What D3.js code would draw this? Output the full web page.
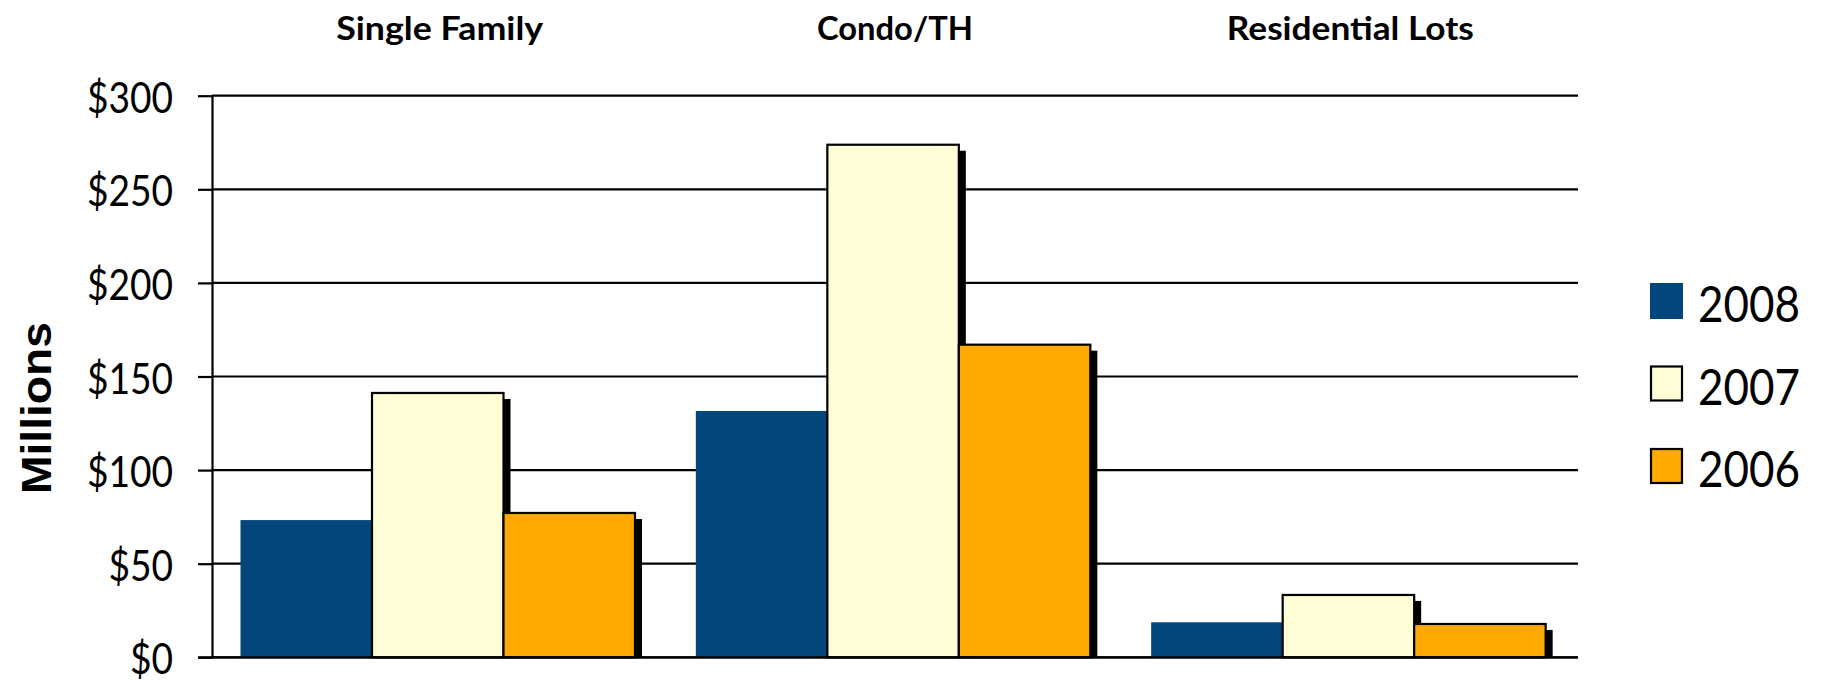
<!DOCTYPE html>
<html>
<head>
<meta charset="utf-8">
<script src="https://cdn.jsdelivr.net/npm/d3@7"></script>
<style>
  html, body { margin: 0; padding: 0; background: #fff; }
  svg { display: block; }
</style>
</head>
<body>
<svg id="chart" width="1822" height="682"></svg>
<script>
// Sales volume by product type, in millions of dollars
const categories = ["Single Family", "Condo/TH", "Residential Lots"];
const seriesNames = ["2008", "2007", "2006"];
const values2008 = [73.3, 131.6, 18.7];
const values2007 = [141.2, 273.8, 33.3];
const values2006 = [77.1, 167.0, 17.8];
const yTicks = [0, 50, 100, 150, 200, 250, 300];
const tickLabels = ["$0", "$50", "$100", "$150", "$200", "$250", "$300"];

const seriesValues = [values2008, values2007, values2006];
const seriesColors = ["#03467B", "#FFFDD6", "#FFA800"];
const seriesOutlined = [false, true, true];

const svg = d3.select("#chart");

const plot = { left: 212, right: 1578, top: 95.7, bottom: 657.3 };

const x0 = d3.scaleBand()
  .domain(categories)
  .range([plot.left, plot.right])
  .paddingInner(0)
  .paddingOuter(0);

const groupStart = 28.5;
const groupWidth = 394.5;
const x1 = d3.scaleBand()
  .domain(seriesNames)
  .range([groupStart, groupStart + groupWidth])
  .padding(0);

const y = d3.scaleLinear()
  .domain([0, 300])
  .range([plot.bottom, plot.top]);

// Horizontal gridlines
svg.append("g")
  .selectAll("line")
  .data(yTicks)
  .join("line")
  .attr("x1", plot.left)
  .attr("x2", plot.right)
  .attr("y1", d => y(d))
  .attr("y2", d => y(d))
  .attr("stroke", "#000")
  .attr("stroke-width", 2.2);

// Bars with drop shadows, drawn one series at a time so later series overlap earlier shadows
const shadowDx = 7, shadowDy = 6;
const barsG = svg.append("g");
categories.forEach((cat, ci) => {
  const g = barsG.append("g").attr("transform", `translate(${x0(cat)},0)`);
  seriesNames.forEach((name, si) => {
    const v = seriesValues[si][ci];
    const bx = x1(name);
    const bw = x1.bandwidth();
    const top = y(v);
    g.append("rect")
      .attr("x", bx + shadowDx)
      .attr("y", top + shadowDy)
      .attr("width", bw)
      .attr("height", Math.max(0, y(0) - top - shadowDy))
      .attr("fill", "#000");
    g.append("rect")
      .attr("x", bx)
      .attr("y", top)
      .attr("width", bw)
      .attr("height", y(0) - top)
      .attr("fill", seriesColors[si])
      .attr("stroke", seriesOutlined[si] ? "#000" : "none")
      .attr("stroke-width", 2.2);
  });
});

// Y axis
const yAxis = d3.axisLeft(y)
  .tickValues(yTicks)
  .tickFormat((d, i) => tickLabels[i])
  .tickSize(14)
  .tickSizeOuter(0);

const axisG = svg.append("g")
  .attr("transform", `translate(${plot.left},0)`)
  .call(yAxis);

axisG.select(".domain").attr("stroke", "#000").attr("stroke-width", 2.2);
axisG.selectAll(".tick line").attr("stroke", "#000").attr("stroke-width", 2.2);
axisG.selectAll(".tick text")
  .attr("x", null)
  .attr("dy", null)
  .attr("text-anchor", "end")
  .attr("fill", "#000")
  .attr("font-family", "Lato, 'Open Sans', sans-serif")
  .attr("font-size", 41.7)
  .attr("transform", "translate(-39,16.5) scale(0.89,1)");

// Baseline redrawn over the bars
svg.append("line")
  .attr("x1", plot.left - 14)
  .attr("x2", plot.right)
  .attr("y1", y(0))
  .attr("y2", y(0))
  .attr("stroke", "#000")
  .attr("stroke-width", 2.2);

// Category headings along the top
const headingWidths = [207, 156, 247];
svg.append("g")
  .selectAll("text")
  .data(categories)
  .join("text")
  .attr("x", d => x0(d) + x0.bandwidth() / 2)
  .attr("y", 39.5)
  .attr("text-anchor", "middle")
  .attr("font-family", "Lato, 'Open Sans', sans-serif")
  .attr("font-weight", "bold")
  .attr("font-size", 33)
  .attr("textLength", (d, i) => headingWidths[i])
  .attr("lengthAdjust", "spacingAndGlyphs")
  .text(d => d);

// Y axis title
svg.append("text")
  .attr("transform", "translate(51,408) rotate(-90)")
  .attr("text-anchor", "middle")
  .attr("font-family", "'Liberation Sans', Arial, sans-serif")
  .attr("font-weight", "bold")
  .attr("font-size", 42)
  .attr("textLength", 172)
  .attr("lengthAdjust", "spacingAndGlyphs")
  .text("Millions");

// Legend
const legend = svg.append("g").attr("transform", "translate(1650,283)");
const rowGap = 82.5;
const items = legend.selectAll("g")
  .data(seriesNames)
  .join("g")
  .attr("transform", (d, i) => `translate(0,${i * rowGap})`);

items.append("rect")
  .attr("x", (d, i) => seriesOutlined[i] ? 1 : 0)
  .attr("y", (d, i) => seriesOutlined[i] ? 1 : 0)
  .attr("width", (d, i) => seriesOutlined[i] ? 31 : 33)
  .attr("height", (d, i) => seriesOutlined[i] ? 34 : 36)
  .attr("fill", (d, i) => seriesColors[i])
  .attr("stroke", (d, i) => seriesOutlined[i] ? "#000" : "none")
  .attr("stroke-width", 2.2);

items.append("text")
  .attr("transform", "translate(48,39) scale(0.88,1)")
  .attr("font-family", "Lato, 'Open Sans', sans-serif")
  .attr("font-size", 50)
  .attr("fill", "#000")
  .text(d => d);
</script>
</body>
</html>
